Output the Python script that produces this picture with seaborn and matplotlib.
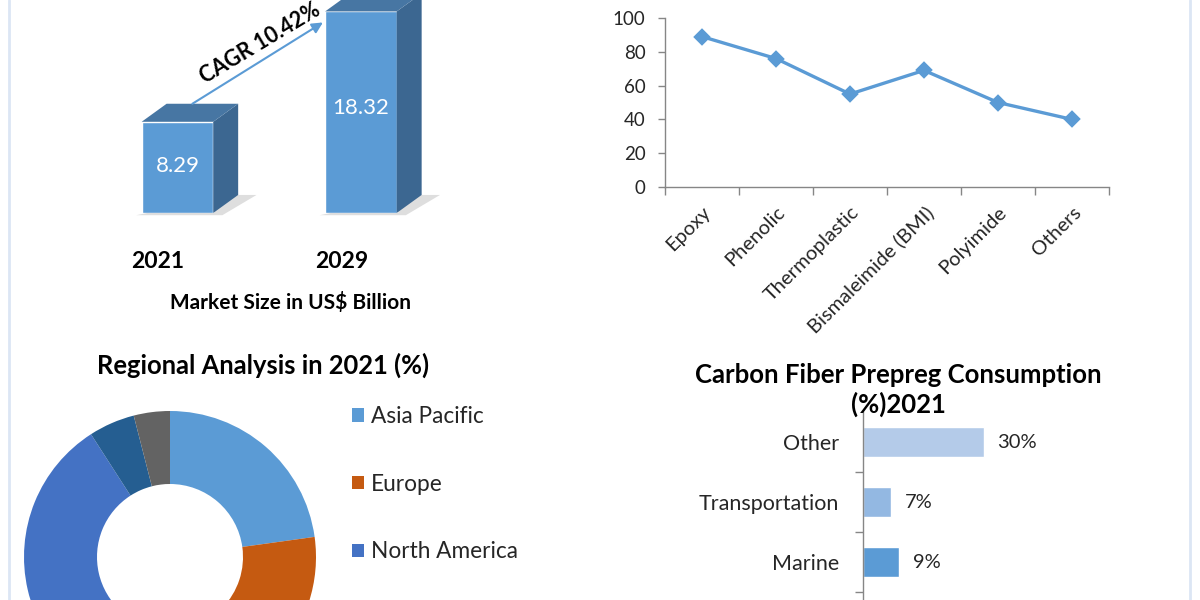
import numpy as np
import matplotlib
matplotlib.use("Agg")
import matplotlib.pyplot as plt
import seaborn as sns
from matplotlib.patches import Polygon, Patch
from matplotlib.lines import Line2D

# --- market size (US$ bn) ---
years = ["2021", "2029"]
market_size = [8.29, 18.32]
cagr_text = "CAGR 10.42%"

# --- resin type ---
resin_types = ["Epoxy", "Phenolic", "Thermoplastic", "Bismaleimide (BMI)", "Polyimide", "Others"]
resin_values = [89, 76, 55, 69, 50, 40]

# --- regional share 2021 (%) ---
regions = ["Asia Pacific", "Europe", "North America", "Middle East & Africa", "South America"]
region_share = [22.8, 29.1, 39.0, 5.1, 4.0]
region_colors = ["#5b9bd5", "#c55a11", "#4472c4", "#255e91", "#636363"]
legend_shown = 3  # only the first three entries fit in the picture

# --- consumption 2021 (%) ---
consumption_cats = ["Other", "Transportation", "Marine"]
consumption_pct = [30, 7, 9]
consumption_colors = ["#b4cbe9", "#93b8e2", "#5b9bd5"]

sns.set_theme(style="white")
plt.rcParams["font.family"] = ["Lato", "DejaVu Sans"]
TXT = "#262626"
GRID = "#868686"

W, H = 1200, 600
fig = plt.figure(figsize=(12, 6), dpi=100)
fig.patch.set_facecolor("white")


def box(x0, y0, x1, y1):
    # pixel box (origin top-left) -> figure rect
    return [x0 / W, 1 - y1 / H, (x1 - x0) / W, (y1 - y0) / H]


# ===== 1. pseudo-3D bars =====
ax1 = fig.add_axes(box(60, 0, 460, 213))
sns.barplot(x=years, y=market_size, color="#5b9bd5", width=0.39, saturation=1, ax=ax1)
ax1.set_xlim(-0.64, 1.54)
ax1.set_ylim(0, 19.36)
ax1.axis("off")

dx, dy = 0.136, 1.64
bars = list(ax1.patches[:2])
for p in bars:
    x0, w, h = p.get_x(), p.get_width(), p.get_height()
    floor = Polygon([(x0 - 0.03, -0.2), (x0 + w + 0.05, -0.2), (x0 + w + dx + 0.1, dy),
                     (x0 + w + dx, dy)], closed=True, facecolor="#dedede",
                    edgecolor="none", clip_on=False, zorder=0.5)
    side = Polygon([(x0 + w, 0), (x0 + w + dx, dy), (x0 + w + dx, h + dy), (x0 + w, h)],
                   closed=True, facecolor="#3c6791", edgecolor="none", clip_on=False)
    top = Polygon([(x0, h), (x0 + dx, h + dy), (x0 + w + dx, h + dy), (x0 + w, h)],
                  closed=True, facecolor="#4776a3", edgecolor="none", clip_on=False)
    ax1.add_patch(floor)
    ax1.add_patch(side)
    ax1.add_patch(top)
    ax1.text(x0 + w / 2, h * 0.52, f"{h:.2f}", color="white", ha="center", va="center", fontsize=16)

for i, yr in enumerate(years):
    b = bars[i]
    ax1.annotate(yr, xy=(b.get_x() + b.get_width() / 2, 0), xytext=(-14, -35),
                 textcoords="offset points", ha="center", va="center",
                 fontsize=16.5, fontweight="bold", color="black", annotation_clip=False)

b0, b1 = bars[0], bars[1]
start = (b0.get_x() + b0.get_width() / 2 + 0.6 * dx, b0.get_height() + dy)
end = (b1.get_x() - 0.012, b1.get_height() - 1.0)
ax1.annotate("", xy=end, xytext=start,
             arrowprops=dict(arrowstyle="-|>", color="#5b9bd5", lw=1.5, mutation_scale=16,
                             shrinkA=0, shrinkB=0), annotation_clip=False)
mid = ((start[0] + end[0]) / 2, (start[1] + end[1]) / 2)
ax1.annotate(cagr_text, xy=mid, xytext=(2, 14.5), textcoords="offset points",
             rotation=31, ha="center", va="center", fontsize=15.5, fontweight="bold",
             color="black", annotation_clip=False)

fig.text(291 / W, 1 - 303 / H, "Market Size in US$ Billion", ha="center", va="center",
         fontsize=15, fontweight="bold", color="black")

# ===== 2. line chart =====
ax2 = fig.add_axes(box(665, 18, 1109, 187))
sns.pointplot(x=resin_types, y=resin_values, color="#5b9bd5", markers="D",
              markersize=7, linewidth=2.4, errorbar=None, ax=ax2)
ax2.set_xlim(-0.5, 5.5)
ax2.set_ylim(0, 100)
ax2.set_yticks(np.arange(0, 101, 20))
ax2.set_xticks(np.arange(-0.5, 6, 1), minor=True)
ax2.tick_params(axis="x", which="major", length=0, pad=12, labelsize=14.5, labelcolor=TXT)
ax2.tick_params(axis="x", which="minor", length=6, width=1, color=GRID, direction="out")
ax2.tick_params(axis="y", which="major", length=5, width=1, color=GRID, direction="out",
                pad=9, labelsize=13.5, labelcolor=TXT, left=True)
ax2.tick_params(axis="x", bottom=True, which="both")
plt.setp(ax2.get_xticklabels(), rotation=45, ha="right", rotation_mode="anchor")
for s in ["top", "right"]:
    ax2.spines[s].set_visible(False)
for s in ["left", "bottom"]:
    ax2.spines[s].set_color(GRID)
    ax2.spines[s].set_linewidth(1)
ax2.set_xlabel("")
ax2.set_ylabel("")

# ===== 3. donut =====
ax3 = fig.add_axes(box(24, 411, 316, 703))
ax3.pie(region_share, colors=region_colors, startangle=90, counterclock=False, radius=1,
        wedgeprops=dict(width=0.5, linewidth=0))
ax3.set_xlim(-1, 1)
ax3.set_ylim(-1, 1)

fig.text(263 / W, 1 - 365 / H, "Regional Analysis in 2021 (%)", ha="center", va="center",
         fontsize=18.4, fontweight="bold", color="black")
handles = [Patch(facecolor=c, edgecolor="none") for c in region_colors[:legend_shown]]
fig.legend(handles, regions[:legend_shown], loc="upper left",
           bbox_to_anchor=(352 / W, 1 - 406 / H),
           frameon=False, fontsize=16.3, handlelength=0.53, handleheight=0.53,
           handletextpad=0.31, labelspacing=2.06, borderaxespad=0, borderpad=0,
           labelcolor=TXT)

# ===== 4. horizontal bars =====
ax4 = fig.add_axes(box(863, 412, 1044, 652))
sns.barplot(x=consumption_pct, y=consumption_cats, hue=consumption_cats,
            palette=consumption_colors, width=0.5, saturation=1, legend=False,
            orient="h", ax=ax4)
ax4.set_xlim(0, 45)
ax4.set_ylim(3.5, -0.5)
ax4.set_xticks([])
ax4.set_yticks(np.arange(0.5, 3.5, 1), minor=True)
ax4.tick_params(axis="y", which="major", length=0, pad=17, labelsize=15.5, labelcolor=TXT)
ax4.tick_params(axis="y", which="minor", length=6, width=1, color=GRID, direction="out", left=True)
for s in ["top", "right", "bottom"]:
    ax4.spines[s].set_visible(False)
ax4.spines["left"].set_color(GRID)
ax4.spines["left"].set_linewidth(1)
ax4.set_xlabel("")
ax4.set_ylabel("")
for cont in ax4.containers:
    ax4.bar_label(cont, fmt="%.0f%%", padding=10, fontsize=14.5, color=TXT)

fig.text(898 / W, 1 - 390 / H, "Carbon Fiber Prepreg Consumption\n(%)2021", ha="center",
         va="center", fontsize=18.5, fontweight="bold", color="black", linespacing=1.2)

# faint panel borders
for xp in (9, 1190):
    fig.add_artist(Line2D([xp / W, xp / W], [0, 1], color="#dce6f4", lw=2))

fig.savefig("out.png", dpi=100)
